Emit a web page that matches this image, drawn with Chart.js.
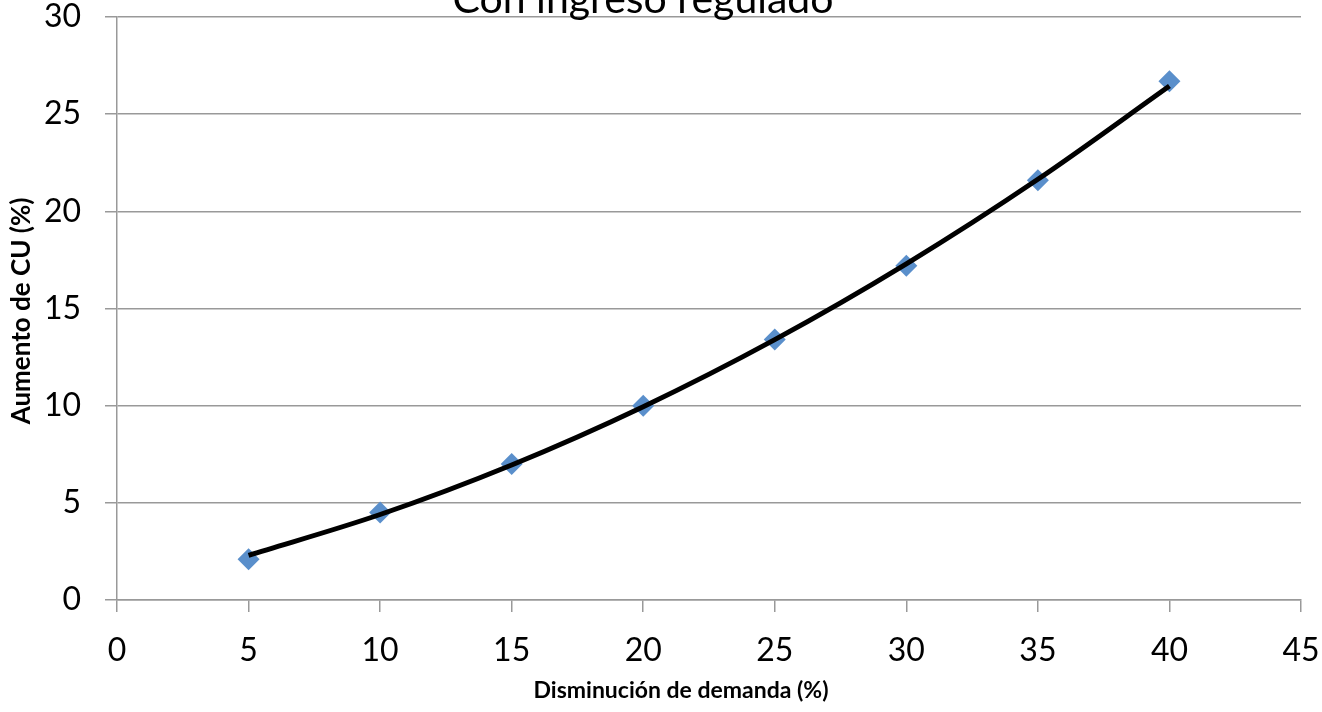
<!DOCTYPE html>
<html>
<head>
<meta charset="utf-8">
<script src="https://cdn.jsdelivr.net/npm/chart.js@4.4.1/dist/chart.umd.min.js"></script>
<style>
  html, body { margin: 0; padding: 0; background: #ffffff; }
  #wrap { width: 1322px; height: 712px; position: relative; }
</style>
</head>
<body>
<div id="wrap"><canvas id="c" width="1322" height="712"></canvas></div>
<script>
const chartTitle = "Con ingreso regulado";
const xAxisTitle = "Disminución de demanda (%)";
const yAxisTitle = "Aumento de CU (%)";

const xValues = [5, 10, 15, 20, 25, 30, 35, 40];
const yValues = [2.1, 4.5, 7.0, 10.0, 13.4, 17.2, 21.6, 26.7];
const trendValues = [2.3, 4.4, 6.95, 9.95, 13.4, 17.3, 21.65, 26.45];

const xTicks = [0, 5, 10, 15, 20, 25, 30, 35, 40, 45];
const yTicks = [0, 5, 10, 15, 20, 25, 30];

const FONT = "Lato, 'Open Sans', sans-serif";
const GRID = '#999999';

const textPlugin = {
  id: 'texts',
  afterDraw(chart) {
    const ctx = chart.ctx;
    ctx.save();
    ctx.fillStyle = '#000';
    ctx.font = "41px " + FONT;
    ctx.textAlign = 'center';
    ctx.textBaseline = 'alphabetic';
    ctx.fillText(chartTitle, 643, 13);

    ctx.font = "bold 23px " + FONT;
    ctx.textBaseline = 'middle';
    ctx.fillText(xAxisTitle, 681, 691);

    ctx.translate(22, 311);
    ctx.rotate(-Math.PI / 2);
    ctx.font = "bold 26px " + FONT;
    ctx.fillText(yAxisTitle, 0, 0);
    ctx.restore();
  }
};

function noPad(scale) {
  scale.paddingLeft = 0;
  scale.paddingRight = 0;
  scale.paddingTop = 0;
  scale.paddingBottom = 0;
}

new Chart(document.getElementById('c'), {
  type: 'scatter',
  data: {
    datasets: [
      {
        label: 'Tendencia',
        data: xValues.map((x, i) => ({ x: x, y: trendValues[i] })),
        showLine: true,
        borderColor: '#000000',
        borderWidth: 5,
        pointRadius: 0,
        cubicInterpolationMode: 'monotone',
        order: 0
      },
      {
        label: 'Datos',
        data: xValues.map((x, i) => ({ x: x, y: yValues[i] })),
        pointStyle: 'rectRot',
        pointRadius: 11,
        pointHoverRadius: 11,
        backgroundColor: '#5A8FCB',
        borderColor: '#5A8FCB',
        borderWidth: 0,
        showLine: false,
        order: 1
      }
    ]
  },
  options: {
    responsive: false,
    animation: false,
    layout: { padding: { top: 17, right: 21, left: 0, bottom: 0 } },
    plugins: {
      legend: { display: false },
      title: { display: false },
      tooltip: { enabled: false }
    },
    scales: {
      x: {
        type: 'linear',
        min: 0, max: 45,
        afterBuildTicks(scale) { scale.ticks = xTicks.map(v => ({ value: v })); },
        afterFit(scale) { scale.height = 112; noPad(scale); },
        ticks: { color: '#000', font: { family: FONT, size: 32 }, padding: 19, maxRotation: 0, autoSkip: false },
        grid: { drawOnChartArea: false, drawTicks: true, tickLength: 12, color: GRID, lineWidth: 1.5 },
        border: { color: GRID, width: 1.5 }
      },
      y: {
        type: 'linear',
        min: 0, max: 30,
        afterBuildTicks(scale) { scale.ticks = yTicks.map(v => ({ value: v })); },
        afterFit(scale) { scale.width = 117; noPad(scale); },
        ticks: { color: '#000', font: { family: FONT, size: 32 }, padding: 24, autoSkip: false },
        grid: { drawTicks: true, tickLength: 12, color: GRID, lineWidth: 1.5 },
        border: { color: GRID, width: 1.5 }
      }
    }
  },
  plugins: [textPlugin]
});
</script>
</body>
</html>
